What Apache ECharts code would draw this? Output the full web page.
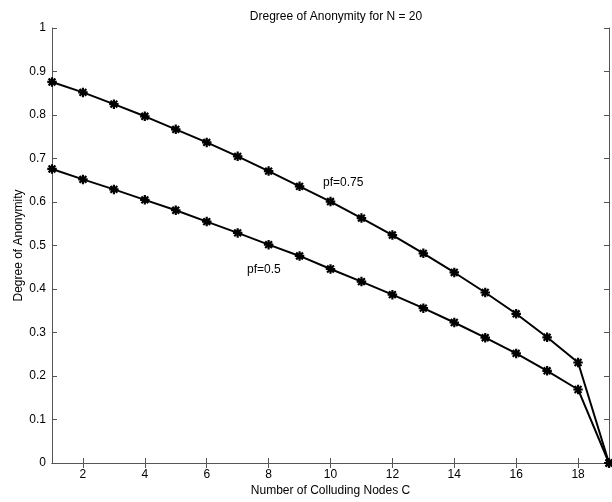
<!DOCTYPE html>
<html>
<head>
<meta charset="utf-8">
<script src="https://cdn.jsdelivr.net/npm/echarts@6/dist/echarts.min.js"></script>
<style>html,body{margin:0;padding:0;background:#fff;}#c{width:612px;height:502px;}</style>
</head>
<body>
<div id="c"></div>
<script>
const colluding = [1,2,3,4,5,6,7,8,9,10,11,12,13,14,15,16,17,18,19];
const pf075 = [0.876,0.852,0.825,0.797,0.767,0.737,0.705,0.671,0.636,0.601,0.563,0.524,0.482,0.438,0.392,0.343,0.289,0.231,0];
const pf05  = [0.676,0.652,0.629,0.605,0.581,0.555,0.529,0.502,0.476,0.446,0.417,0.387,0.356,0.323,0.288,0.252,0.212,0.169,0];
const xTicks = [2,4,6,8,10,12,14,16,18];
const yTicks = [0,0.1,0.2,0.3,0.4,0.5,0.6,0.7,0.8,0.9,1];
const titleText = 'Dregree of Anonymity for N = 20';
const xName = 'Number of Colluding Nodes C';
const yName = 'Degree of Anonymity';
const seriesNames = ['pf=0.75','pf=0.5'];

const FONT = 'Liberation Sans, Arial, Helvetica, sans-serif';
const AX = '#555';
const star = 'path://M0,-5L0,5M-5,0L5,0M-3.6,-3.6L3.6,3.6M-3.6,3.6L3.6,-3.6';

function mk(name, vals){
  return {
    name: name, type: 'line',
    xAxisIndex: 0, yAxisIndex: 0,
    data: colluding.map((c,i)=>[c, vals[i]]),
    symbol: star, symbolSize: 9.5,
    itemStyle: {color: 'rgba(0,0,0,0)', borderColor: '#000', borderWidth: 2.2},
    lineStyle: {color: '#000', width: 2},
    animation: false
  };
}
const hidden = {show:false};
const chart = echarts.init(document.getElementById('c'), null, {renderer:'canvas'});
chart.setOption({
  backgroundColor: '#fff',
  animation: false,
  title: {text: titleText, left: 331, top: 6, textAlign: 'center',
    textStyle: {fontFamily: FONT, fontSize: 12, fontWeight: 'normal', color: '#000'}},
  grid: {left: 52, right: 3, top: 28, bottom: 36},
  xAxis: [
    {type:'value', min:1, max:19, position:'bottom',
     name: xName, nameLocation:'middle', nameGap: 22, nameMoveOverlap: false,
     nameTextStyle:{fontFamily:FONT, fontSize:12, color:'#000'},
     axisLine:{show:true, lineStyle:{color:AX, width:1}},
     axisTick:{show:true, inside:true, length:5, customValues: xTicks, lineStyle:{color:AX}},
     axisLabel:{show:true, customValues: xTicks, margin: 6, fontFamily:FONT, fontSize:12, color:'#000'},
     splitLine: hidden},
    {type:'value', min:1, max:19, position:'top',
     axisLine:{show:true, lineStyle:{color:AX, width:1}},
     axisTick:{show:true, inside:true, length:5, customValues: xTicks, lineStyle:{color:AX}},
     axisLabel: hidden, splitLine: hidden}
  ],
  yAxis: [
    {type:'value', min:0, max:1, interval:0.1, position:'left',
     name: yName, nameLocation:'middle', nameGap: 27, nameRotate: 90, nameMoveOverlap: false,
     nameTextStyle:{fontFamily:FONT, fontSize:12, color:'#000'},
     axisLine:{show:true, lineStyle:{color:AX, width:1}},
     axisTick:{show:true, inside:true, length:5, lineStyle:{color:AX}},
     axisLabel:{show:true, margin: 6, fontFamily:FONT, fontSize:12, color:'#000',
       formatter: v => String(Math.round(v*10)/10)},
     splitLine: hidden},
    {type:'value', min:0, max:1, interval:0.1, position:'right',
     axisLine:{show:true, lineStyle:{color:AX, width:1}},
     axisTick:{show:true, inside:true, length:5, lineStyle:{color:AX}},
     axisLabel: hidden, splitLine: hidden}
  ],
  series: [mk(seriesNames[0], pf075), mk(seriesNames[1], pf05)],
  graphic: [
    {type:'text', left: 323, top: 177, style:{text: seriesNames[0], font: '12px ' + FONT, fill:'#000'}},
    {type:'text', left: 247, top: 264, style:{text: seriesNames[1], font: '12px ' + FONT, fill:'#000'}}
  ]
});
</script>
</body>
</html>
